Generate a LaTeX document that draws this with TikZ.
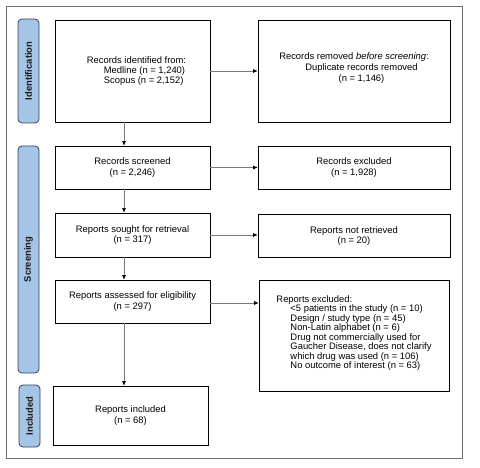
\documentclass[tikz,border=0pt]{standalone}
\usepackage{fontspec}
\setmainfont{Liberation Sans}
\usetikzlibrary{arrows.meta}
\definecolor{barfill}{HTML}{A6C4E6}
\definecolor{barline}{HTML}{34414F}
\definecolor{framecol}{HTML}{6E6E6E}
\definecolor{arrcol}{HTML}{7A7A7A}
\tikzset{
  box/.style={draw=black, line width=0.7pt, fill=white, inner sep=2pt,
    font=\fontsize{9.4}{10.2}\selectfont},
  sidebar/.style={draw=barline, line width=0.8pt, fill=barfill, rounded corners=4pt,
    rotate=90, inner sep=0pt, text=black!90,
    font=\fontsize{9.4}{10}\selectfont\bfseries},
  arr/.style={draw=arrcol, line width=0.6pt, -{Latex[length=4.5pt,width=4pt,color=black]}},
}
\begin{document}
\begin{tikzpicture}[x=1pt,y=-1pt]
\useasboundingbox (0,0) rectangle (480,468);
\draw[framecol, line width=1pt] (6,7) rectangle (462,458);

% side bars
\node[sidebar, minimum width=104pt, minimum height=21pt] (sid) at (28.5,71) {Identification};
\node[sidebar, minimum width=227pt, minimum height=21pt] (sscr) at (28.5,259.5) {Screening};
\node[sidebar, minimum width=62pt, minimum height=21pt] (sinc) at (29.5,416) {Included};

% left column
\node[box, minimum width=155pt, minimum height=102pt, align=left] (ident) at (132.5,71)
  {\hspace*{8pt}Records identified from:\\
   \hspace*{25pt}Medline (n = 1,240)\\
   \hspace*{25pt}Scopus (n = 2,152)};
\node[box, minimum width=155pt, minimum height=43pt, align=center] (scr) at (132.5,167.5)
  {Records screened\\(n = 2,246)};
\node[box, minimum width=155pt, minimum height=44pt, align=center] (sought) at (132.5,235)
  {Reports sought for retrieval\\(n = 317)};
\node[box, minimum width=155pt, minimum height=43pt, align=center] (assess) at (132.5,301.5)
  {Reports assessed for eligibility\\(n = 297)};
\node[box, minimum width=155pt, minimum height=59pt, align=center] (incl) at (130.5,415.5)
  {Reports included\\(n = 68)};

% right column
\node[box, minimum width=192pt, minimum height=102pt, align=center, text depth=7pt] (remov) at (354,71)
  {Records removed \textit{before screening}:\\
   \hspace*{15pt}Duplicate records removed\\[1.5pt]
   \hspace*{15pt}(n = 1,146)};
\node[box, minimum width=192pt, minimum height=43pt, align=center] (excl) at (354,167.5)
  {Records excluded\\(n = 1,928)};
\node[box, minimum width=192pt, minimum height=43pt, align=center] (notret) at (354,236)
  {Reports not retrieved\\(n = 20)};
\node[box, minimum width=190pt, minimum height=111pt, align=left, text depth=7pt,
      font=\fontsize{9.4}{9.5}\selectfont] (repex) at (354,335.5)
  {Reports excluded:\\
   \hspace*{14pt}<5 patients in the study (n = 10)\\
   \hspace*{14pt}Design / study type (n = 45)\\
   \hspace*{14pt}Non-Latin alphabet (n = 6)\\
   \hspace*{14pt}Drug not commercially used for\\
   \hspace*{14pt}Gaucher Disease, does not clarify\\
   \hspace*{14pt}which drug was used (n = 106)\\
   \hspace*{14pt}No outcome of interest (n = 63)};

% connectors
\draw[arr] ([xshift=-8.5pt]ident.south) -- ([xshift=-8.5pt]scr.north);
\draw[arr] ([xshift=-8.5pt]scr.south) -- ([xshift=-8.5pt]sought.north);
\draw[arr] ([xshift=-8.5pt]sought.south) -- ([xshift=-8.5pt]assess.north);
\draw[arr] ([xshift=-8.5pt]assess.south) -- ([xshift=-6.5pt]incl.north);
\draw[arr] (ident.east) -- (remov.west);
\draw[arr] (scr.east) -- (excl.west);
\draw[arr] (sought.east) -- (sought.east -| notret.west);
\draw[arr] ([yshift=-1.5pt]assess.east) -- ([yshift=-1.5pt]assess.east -| repex.west);
\end{tikzpicture}
\end{document}
